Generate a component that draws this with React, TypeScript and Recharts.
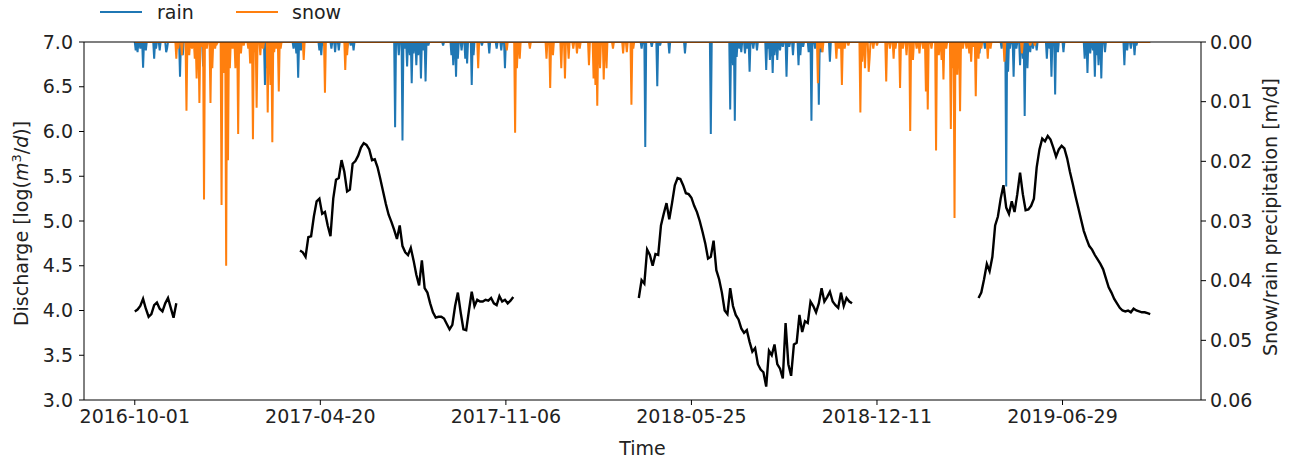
import React from "react";
import { ComposedChart, Line, XAxis, YAxis, ReferenceLine } from "recharts";

// x axis is in days counted from 2016-10-01
const tickDays = [0, 201, 402, 603, 804, 1005];
const tickLabels = ["2016-10-01", "2017-04-20", "2017-11-06", "2018-05-25", "2018-12-11", "2019-06-29"];
const dischargeTicks = [3, 3.5, 4, 4.5, 5, 5.5, 6, 6.5, 7];
const precipTicks = [0, 0.01, 0.02, 0.03, 0.04, 0.05, 0.06];
const lastDay = 1100;
const step = 3;

// discharge, log(m3/d), one value every 3 days per gauged period
const seg1Start = 0;
const seg1 = [3.99, 4.01, 4.05, 4.13, 4.02, 3.93, 3.96, 4.06, 4.09, 4.02, 3.99, 4.08, 4.14, 4.03, 3.92, 4.08];
const seg2Start = 179;
const seg2 = [
  4.67, 4.65, 4.6, 4.82, 4.83, 5.05, 5.22, 5.25, 5.08, 5.1, 4.95, 4.83, 5.25, 5.46, 5.48, 5.68, 5.55, 5.33, 5.35, 5.64,
  5.67, 5.73, 5.82, 5.87, 5.85, 5.8, 5.68, 5.69, 5.6, 5.47, 5.33, 5.19, 5.07, 4.99, 4.9, 4.8, 4.95, 4.72, 4.65, 4.62,
  4.7, 4.56, 4.4, 4.28, 4.56, 4.25, 4.2, 4.08, 3.98, 3.92, 3.93, 3.93, 3.91, 3.85, 3.79, 3.84, 4.05, 4.2, 3.98, 3.79,
  3.78, 4.0, 4.21, 4.05, 4.12, 4.1, 4.1, 4.12, 4.11, 4.14, 4.08, 4.06, 4.16, 4.1, 4.12, 4.08, 4.11, 4.15,
];
const seg3Start = 546;
const seg3 = [
  4.14, 4.34, 4.3, 4.68, 4.62, 4.5, 4.63, 4.62, 4.95, 5.08, 5.2, 5.02, 5.2, 5.4, 5.48, 5.47, 5.4, 5.31, 5.3, 5.26,
  5.17, 5.1, 5.0, 4.88, 4.75, 4.58, 4.6, 4.78, 4.45, 4.35, 4.2, 4.0, 3.96, 4.25, 4.05, 3.95, 3.9, 3.8, 3.75, 3.78,
  3.65, 3.54, 3.58, 3.4, 3.34, 3.31, 3.15, 3.55, 3.5, 3.62, 3.4, 3.35, 3.24, 3.86, 3.4, 3.27, 3.62, 3.64, 3.95, 3.76,
  3.88, 3.86, 4.1, 4.05, 3.98, 4.08, 4.25, 4.1, 4.15, 4.21, 4.1, 4.06, 4.03, 4.2, 4.05, 4.14, 4.1, 4.08,
];
const seg4Start = 914;
const seg4 = [
  4.14, 4.2, 4.35, 4.52, 4.44, 4.6, 4.95, 5.05, 5.25, 5.4, 5.15, 5.08, 5.22, 5.1, 5.3, 5.54, 5.3, 5.12, 5.13, 5.17,
  5.25, 5.6, 5.8, 5.92, 5.89, 5.95, 5.91, 5.82, 5.72, 5.8, 5.84, 5.81, 5.7, 5.55, 5.42, 5.28, 5.15, 5.02, 4.89, 4.8,
  4.72, 4.68, 4.62, 4.57, 4.52, 4.46, 4.36, 4.26, 4.2, 4.13, 4.08, 4.03, 4.0, 3.99, 4.0, 3.98, 4.02, 4.0, 3.99, 3.98,
  3.98, 3.97, 3.96,
];

// precipitation days [day, m/d]; every other day is dry
const rainDays: [number, number][] = [
  [1, 0.0014], [3, 0.0017], [6, 0.0011], [9, 0.0043], [12, 0.0014], [21, 0.0028], [23, 0.0011], [27, 0.0014],
  [34, 0.0017], [35, 0.0011], [49, 0.0058], [52, 0.0022], [74, 0.0041], [141, 0.0072], [143, 0.0044], [172, 0.0011],
  [175, 0.0019], [177, 0.006], [180, 0.0014], [200, 0.0014], [202, 0.0022], [205, 0.0006], [213, 0.0011], [217, 0.0017],
  [221, 0.0014], [230, 0.0011], [234, 0.0006], [237, 0.0014], [282, 0.0143], [286, 0.0022], [290, 0.0165], [293, 0.0011],
  [295, 0.0041], [298, 0.0022], [300, 0.0069], [302, 0.0019], [305, 0.0039], [307, 0.0022], [310, 0.0061], [313, 0.0014],
  [315, 0.0066], [318, 0.0006], [334, 0.0006], [343, 0.0022], [345, 0.0039], [348, 0.0058], [350, 0.0028], [354, 0.0014],
  [358, 0.0028], [360, 0.0036], [365, 0.0072], [367, 0.0022], [376, 0.0006], [384, 0.0019], [392, 0.0011], [397, 0.0014],
  [401, 0.0044], [549, 0.0011], [553, 0.0176], [560, 0.0008], [566, 0.0074], [569, 0.0006], [579, 0.0019], [596, 0.0019],
  [624, 0.0154], [645, 0.0113], [648, 0.0039], [650, 0.0132], [652, 0.0025], [655, 0.0011], [657, 0.0017], [661, 0.0019],
  [663, 0.0011], [666, 0.005], [670, 0.0011], [674, 0.0014], [684, 0.0047], [686, 0.0011], [688, 0.003], [691, 0.0052],
  [693, 0.0022], [696, 0.003], [699, 0.0014], [702, 0.0008], [706, 0.0058], [709, 0.0008], [713, 0.0022], [719, 0.0039],
  [721, 0.0022], [724, 0.0008], [730, 0.0017], [733, 0.0132], [737, 0.0011], [741, 0.0105], [744, 0.0017], [753, 0.0033],
  [894, 0.0017], [905, 0.0011], [915, 0.0019], [921, 0.0011], [939, 0.0011], [944, 0.0242], [946, 0.005], [948, 0.0011],
  [952, 0.0058], [955, 0.0011], [959, 0.0039], [962, 0.0028], [964, 0.0124], [967, 0.0044], [970, 0.0017], [973, 0.0011],
  [977, 0.0014], [988, 0.0028], [991, 0.0011], [993, 0.0058], [997, 0.0088], [1000, 0.0017], [1006, 0.0017], [1029, 0.0028],
  [1032, 0.0052], [1035, 0.0019], [1038, 0.0014], [1040, 0.0058], [1042, 0.0022], [1044, 0.0039], [1047, 0.0061], [1051, 0.0017],
  [1072, 0.0039], [1075, 0.0014], [1079, 0.0011], [1083, 0.0022], [1085, 0.0006],
];
const snowDays: [number, number][] = [
  [45, 0.0028], [47, 0.0011], [51, 0.0022], [56, 0.0115], [59, 0.0022], [62, 0.0011], [65, 0.0028], [67, 0.0061],
  [70, 0.0102], [72, 0.0008], [75, 0.0264], [78, 0.0011], [82, 0.0102], [84, 0.0044], [87, 0.0011], [89, 0.0003],
  [94, 0.0273], [96, 0.0052], [99, 0.0375], [101, 0.0198], [103, 0.0044], [106, 0.0011], [109, 0.0044], [112, 0.0154],
  [115, 0.0019], [118, 0.0006], [123, 0.0011], [125, 0.0036], [128, 0.0163], [130, 0.0017], [132, 0.011], [136, 0.0022],
  [139, 0.0011], [144, 0.0118], [147, 0.0072], [149, 0.0168], [151, 0.0017], [153, 0.0011], [156, 0.0083], [158, 0.0011],
  [183, 0.003], [206, 0.0085], [228, 0.0047], [230, 0.0022], [372, 0.0044], [403, 0.0014], [412, 0.0152], [414, 0.0044],
  [417, 0.0028], [428, 0.0011], [446, 0.0028], [450, 0.0077], [453, 0.0022], [462, 0.0044], [466, 0.0061], [470, 0.0028],
  [475, 0.0011], [479, 0.0019], [482, 0.0011], [492, 0.0039], [497, 0.0061], [499, 0.0072], [501, 0.0107], [504, 0.0044],
  [508, 0.0063], [511, 0.0044], [518, 0.0011], [529, 0.0019], [533, 0.0017], [538, 0.0105], [540, 0.0011], [740, 0.0069],
  [742, 0.0011], [745, 0.0017], [760, 0.0028], [763, 0.0011], [766, 0.0072], [769, 0.0011], [773, 0.0006], [786, 0.0118],
  [788, 0.0033], [791, 0.0044], [795, 0.005], [796, 0.0028], [800, 0.0011], [804, 0.0006], [814, 0.0066], [818, 0.0011],
  [822, 0.0028], [824, 0.0011], [829, 0.0077], [832, 0.0011], [836, 0.0022], [840, 0.0149], [843, 0.003], [847, 0.0011],
  [850, 0.0019], [854, 0.0011], [857, 0.0083], [859, 0.0113], [863, 0.0011], [868, 0.0182], [871, 0.0022], [874, 0.003],
  [876, 0.0063], [879, 0.0011], [884, 0.0146], [886, 0.0044], [888, 0.0295], [891, 0.0055], [894, 0.0116], [897, 0.0011],
  [901, 0.0011], [904, 0.0019], [906, 0.0033], [908, 0.0008], [911, 0.0091], [914, 0.0028], [917, 0.0011], [924, 0.0028],
  [927, 0.0011], [942, 0.0033], [961, 0.0019], [970, 0.0006], [975, 0.0006],
];

const toSegment = (start: number, vals: number[]) => vals.map((q, i) => ({ day: start + i * step, q }));
const toDaily = (events: [number, number][]) => {
  const wet = new Map(events);
  return Array.from({ length: lastDay + 1 }, (_, day) => ({ day, v: wet.get(day) ?? 0 }));
};

const segments = [
  toSegment(seg1Start, seg1),
  toSegment(seg2Start, seg2),
  toSegment(seg3Start, seg3),
  toSegment(seg4Start, seg4),
];
const rainData = toDaily(rainDays);
const snowData = toDaily(snowDays);

const font = "DejaVu Sans";
const ink = "#222";
const tickStyle = { fontSize: 19, fill: ink, fontFamily: font };

export default function App() {
  return (
    <div style={{ position: "relative", width: 1290, height: 462 }}>
      <style>{"body{margin:0}"}</style>
      <ComposedChart width={1290} height={462} margin={{ top: 42, right: 0, bottom: 0, left: 0 }}>
        <XAxis
          type="number"
          dataKey="day"
          domain={[-55, 1155]}
          allowDataOverflow
          ticks={tickDays}
          interval={0}
          tickFormatter={(d: number) => tickLabels[tickDays.indexOf(d)] ?? ""}
          height={62}
          tickSize={5}
          tickMargin={5}
          tick={tickStyle}
          stroke="#000"
          label={() => (
            <text x={642.5} y={455} textAnchor="middle" fontSize={19} fontFamily={font} fill={ink}>
              Time
            </text>
          )}
        />
        <YAxis
          yAxisId="q"
          domain={[3, 7]}
          allowDataOverflow
          ticks={dischargeTicks}
          interval={0}
          tickFormatter={(v: number) => v.toFixed(1)}
          width={84}
          tickSize={5}
          tickMargin={6}
          tick={tickStyle}
          stroke="#000"
          label={() => (
            <text
              x={27.5}
              y={223.5}
              transform="rotate(-90, 27.5, 223.5)"
              textAnchor="middle"
              fontSize={19}
              fontFamily={font}
              fill={ink}
            >
              Discharge [log(<tspan fontStyle="italic">m</tspan>
              <tspan dy={-7} fontSize={13}>
                3
              </tspan>
              <tspan dy={7}>/</tspan>
              <tspan fontStyle="italic">d</tspan>)]
            </text>
          )}
        />
        <YAxis
          yAxisId="p"
          orientation="right"
          reversed
          domain={[0, 0.06]}
          allowDataOverflow
          ticks={precipTicks}
          interval={0}
          tickFormatter={(v: number) => v.toFixed(2)}
          width={89}
          tickSize={5}
          tickMargin={4}
          tick={tickStyle}
          stroke="#000"
          label={() => (
            <text
              x={1277}
              y={217}
              transform="rotate(-90, 1277, 217)"
              textAnchor="middle"
              fontSize={19}
              fontFamily={font}
              fill={ink}
            >
              Snow/rain precipitation [m/d]
            </text>
          )}
        />
        {segments.map((seg, i) => (
          <Line
            key={`q${i}`}
            yAxisId="q"
            data={seg}
            dataKey="q"
            stroke="#000"
            strokeWidth={2.4}
            dot={false}
            activeDot={false}
            isAnimationActive={false}
          />
        ))}
        <Line
          yAxisId="p"
          data={rainData}
          dataKey="v"
          name="rain"
          stroke="#1f77b4"
          strokeWidth={2}
          dot={false}
          activeDot={false}
          isAnimationActive={false}
        />
        <Line
          yAxisId="p"
          data={snowData}
          dataKey="v"
          name="snow"
          stroke="#ff7f0e"
          strokeWidth={2}
          dot={false}
          activeDot={false}
          isAnimationActive={false}
        />
        {/* top spine, drawn over the zero line of the precipitation series */}
        <ReferenceLine yAxisId="p" y={0} stroke="#000" strokeWidth={1.2} ifOverflow="visible" />
      </ComposedChart>
      <svg width={400} height={30} style={{ position: "absolute", left: 0, top: 0 }}>
        <line x1={100} x2={142} y1={12} y2={12} stroke="#1f77b4" strokeWidth={2} />
        <text x={157} y={19} fontSize={19} fontFamily={font} fill={ink}>
          rain
        </text>
        <line x1={236} x2={278} y1={12} y2={12} stroke="#ff7f0e" strokeWidth={2} />
        <text x={292} y={19} fontSize={19} fontFamily={font} fill={ink}>
          snow
        </text>
      </svg>
    </div>
  );
}
